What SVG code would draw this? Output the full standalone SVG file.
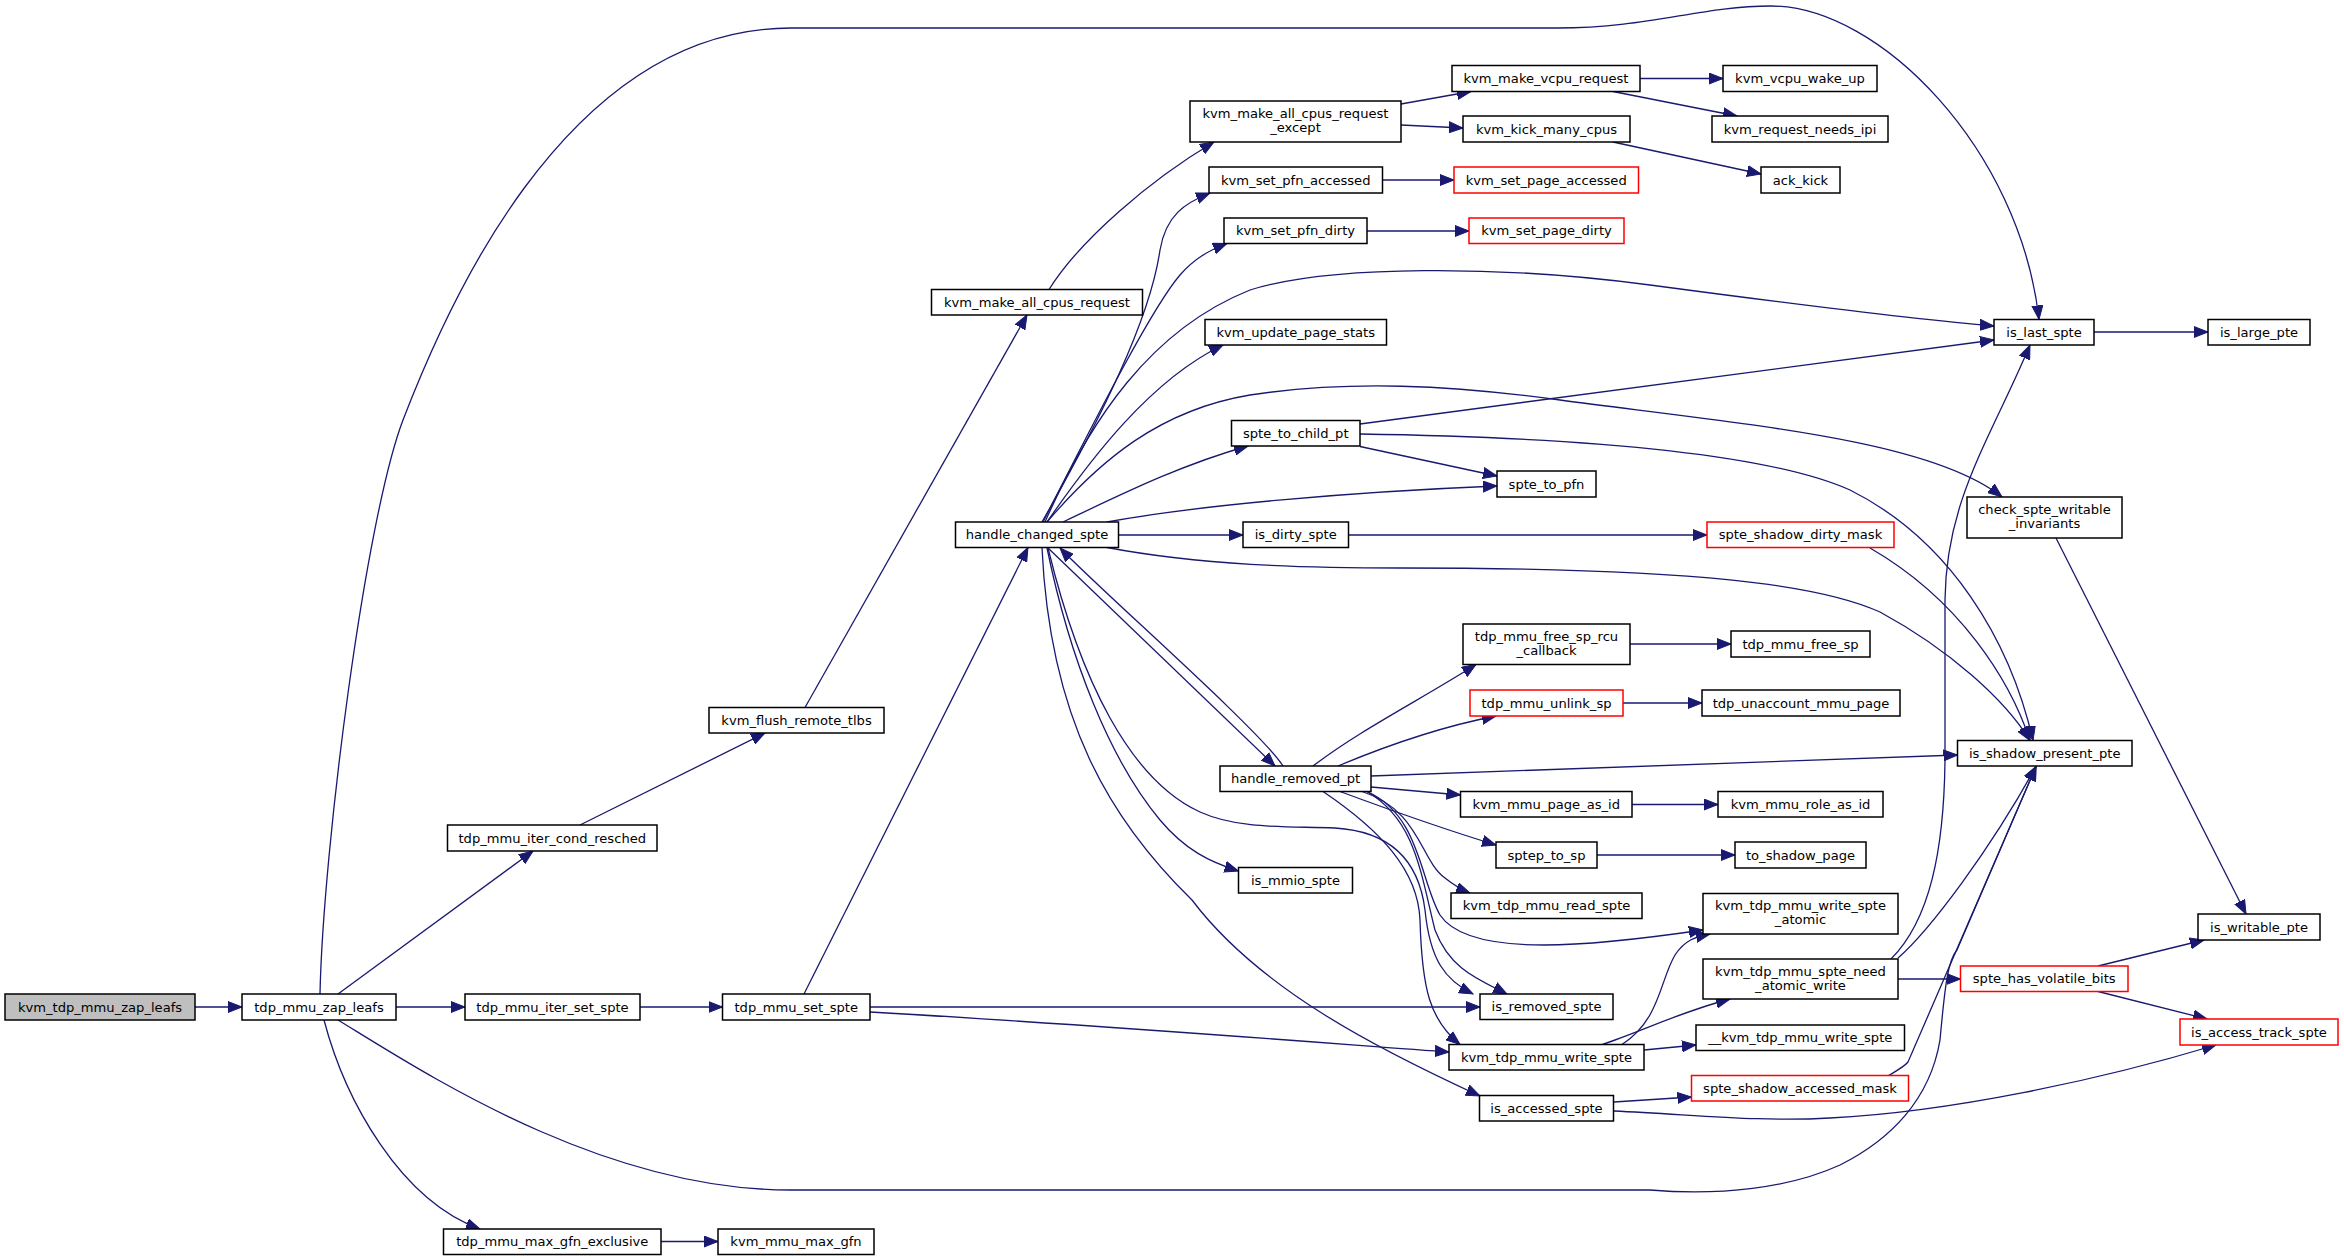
<svg xmlns="http://www.w3.org/2000/svg" width="2344" height="1259" viewBox="0 0 2344 1259">
<defs>
<style>
.n rect{fill:#ffffff;stroke:#000000;stroke-width:1.5}
.n.red rect{stroke:#ff0000}
.n.root rect{fill:#bfbfbf}
.n text{font-family:"DejaVu Sans","Liberation Sans",sans-serif;font-size:13.1px;text-anchor:middle;fill:#000000}
#edges path{fill:none;stroke:#191970;stroke-width:1.3;marker-end:url(#a)}
</style>
<marker id="a" markerUnits="userSpaceOnUse" markerWidth="15" markerHeight="12" viewBox="0 0 15 12" refX="14" refY="6" orient="auto">
<path d="M0,0.5 L14,6 L0,11.5 z" fill="#191970" stroke="#191970" stroke-width="1"/>
</marker>
</defs>
<rect x="0" y="0" width="2344" height="1259" fill="#ffffff"/>
<g id="edges">
<path d="M195,1007 L242,1007"/>
<path d="M320,994 C323,850 365,520 403,420 C440,324 560,28 791,28 L1557,28 C1650,28 1700,6 1771,6 C1880,6 2020,150 2039,319.5"/>
<path d="M338,994 L533,851"/>
<path d="M396,1007 L465,1007"/>
<path d="M324,1020 C345,1100 400,1200 480,1229"/>
<path d="M338,1020 C420,1070 600,1190 790,1190 L1650,1190 C1720,1196 1790,1188 1840,1165 C1890,1140 1930,1100 1940,1040 C1945,985 1948,960 1957,950 L2036,766.5"/>
<path d="M580,825 L765,733"/>
<path d="M805,707.5 L1027,315"/>
<path d="M1049,289.5 C1080,240 1150,180 1214,142"/>
<path d="M640,1007 L722.5,1007"/>
<path d="M661,1241.5 L718,1241.5"/>
<path d="M804,994 L1028,547.5"/>
<path d="M870,1007 L1480,1007"/>
<path d="M870,1012 C1100,1025 1350,1045 1449,1052"/>
<path d="M1042,522 C1100,420 1150,320 1160,250 C1166,215 1185,203 1210,193"/>
<path d="M1043,522 C1090,430 1150,310 1180,275 C1195,258 1210,250 1227,243.5"/>
<path d="M1045,522 C1090,420 1150,330 1250,290 C1330,265 1500,265 1650,285 C1800,305 1920,320 1994,326"/>
<path d="M1047,522 C1090,460 1150,380 1223,345"/>
<path d="M1047,522 C1100,460 1160,410 1250,395 C1350,380 1450,385 1560,400 C1750,425 1930,440 2002,497"/>
<path d="M1063,522 C1120,495 1180,465 1248,446"/>
<path d="M1107,522 C1200,505 1350,492 1497,486"/>
<path d="M1118.5,535 L1243,535"/>
<path d="M1107,547.5 C1200,565 1300,568 1400,568 C1700,568 1820,585 1880,612 C1950,650 2005,700 2030,740.5"/>
<path d="M1048,548 L1275,766"/>
<path d="M1047,548 C1070,660 1110,760 1160,820 C1185,850 1210,862 1238.5,871"/>
<path d="M1048,548 C1080,680 1130,780 1200,812 C1240,830 1290,826 1335,828 C1400,832 1420,870 1425,910 C1430,960 1445,980 1473,994"/>
<path d="M1042,548 C1050,720 1110,820 1192,900 C1260,990 1380,1050 1480,1096"/>
<path d="M1283,766 C1260,730 1100,590 1060,548"/>
<path d="M1313,766 C1360,730 1420,700 1476,664.5"/>
<path d="M1338,766 C1400,740 1450,725 1496,716"/>
<path d="M1371,776 C1600,768 1800,760 1957.5,755"/>
<path d="M1371,787 L1460.5,795"/>
<path d="M1340,791.5 C1390,810 1440,828 1496,845"/>
<path d="M1362,791.5 C1420,810 1420,860 1445,878 C1455,886 1462,890 1470,893"/>
<path d="M1367,791.5 C1420,815 1420,880 1440,915 C1470,960 1600,945 1703,930"/>
<path d="M1367,791.5 C1415,820 1420,870 1435,930 C1450,970 1480,980 1507,994"/>
<path d="M1323,791.5 C1380,830 1418,870 1420,920 C1422,990 1430,1020 1460,1044.5"/>
<path d="M1401,104 L1471,91.5"/>
<path d="M1401,125 L1463,128"/>
<path d="M1640,78.5 L1723,78.5"/>
<path d="M1613,91.5 L1737,116"/>
<path d="M1613,142 L1761,174"/>
<path d="M1382.5,180 L1454,180"/>
<path d="M1367,231 L1469,231"/>
<path d="M1360,424 L1994,340"/>
<path d="M1360,446.5 L1497,476"/>
<path d="M1360,434 C1550,437 1760,450 1850,490 C1950,540 2010,640 2033,740.5"/>
<path d="M1348.5,535 L1707,535"/>
<path d="M1630,644 L1731,644"/>
<path d="M1623,703 L1702,703"/>
<path d="M1632,804.5 L1718,804.5"/>
<path d="M1597,855 L1735,855"/>
<path d="M1622,1044.5 C1660,1020 1660,980 1675,955 C1685,940 1695,937 1710,934"/>
<path d="M1602,1044.5 C1640,1032 1680,1012 1730,999"/>
<path d="M1644,1050 L1696,1045"/>
<path d="M1614,1102 L1691.5,1097"/>
<path d="M1614,1111 C1700,1115 1760,1122 1830,1118 C1950,1112 2100,1080 2216,1045"/>
<path d="M1870,548 C1960,600 2010,680 2030,740.5"/>
<path d="M1898,979 L1960.5,979"/>
<path d="M1891,959 C1930,920 1944,850 1945,760 L1945,600 C1946,500 1990,440 2030,345"/>
<path d="M1898,958 C1930,930 1990,850 2036,766.5"/>
<path d="M1888,1076 C1898,1070 1905,1066 1908,1062 L2036,766.5"/>
<path d="M2094,332 L2208,332"/>
<path d="M2056,538 L2246,914"/>
<path d="M2098,966 L2204,940"/>
<path d="M2098,991.5 L2207,1019"/>
</g>
<g id="kvm_tdp_mmu_zap_leafs" class="n root"><rect x="5" y="994" width="190" height="26"/><text x="100" y="1011.5">kvm_tdp_mmu_zap_leafs</text></g>
<g id="tdp_mmu_zap_leafs" class="n"><rect x="242" y="994" width="154" height="26"/><text x="319" y="1011.5">tdp_mmu_zap_leafs</text></g>
<g id="tdp_mmu_iter_cond_resched" class="n"><rect x="447.5" y="825" width="209.5" height="26"/><text x="552.25" y="842.5">tdp_mmu_iter_cond_resched</text></g>
<g id="tdp_mmu_iter_set_spte" class="n"><rect x="465" y="994" width="175" height="26"/><text x="552.5" y="1011.5">tdp_mmu_iter_set_spte</text></g>
<g id="tdp_mmu_max_gfn_exclusive" class="n"><rect x="443.5" y="1229" width="217.5" height="25.5"/><text x="552.25" y="1246.2">tdp_mmu_max_gfn_exclusive</text></g>
<g id="kvm_flush_remote_tlbs" class="n"><rect x="709" y="707.5" width="175" height="25.5"/><text x="796.5" y="724.7">kvm_flush_remote_tlbs</text></g>
<g id="tdp_mmu_set_spte" class="n"><rect x="722.5" y="994" width="147.5" height="26"/><text x="796.25" y="1011.5">tdp_mmu_set_spte</text></g>
<g id="kvm_mmu_max_gfn" class="n"><rect x="718" y="1229" width="156" height="25.5"/><text x="796" y="1246.2">kvm_mmu_max_gfn</text></g>
<g id="kvm_make_all_cpus_request" class="n"><rect x="931.5" y="289.5" width="211" height="25.5"/><text x="1037" y="306.7">kvm_make_all_cpus_request</text></g>
<g id="handle_changed_spte" class="n"><rect x="955.5" y="522" width="163" height="25.5"/><text x="1037" y="539.2">handle_changed_spte</text></g>
<g id="kvm_make_all_cpus_request_except" class="n"><rect x="1190" y="101" width="211" height="41"/><text x="1295.5" y="118">kvm_make_all_cpus_request</text><text x="1295.5" y="132">_except</text></g>
<g id="kvm_set_pfn_accessed" class="n"><rect x="1209" y="167" width="173.5" height="26"/><text x="1295.75" y="184.5">kvm_set_pfn_accessed</text></g>
<g id="kvm_set_pfn_dirty" class="n"><rect x="1224" y="218" width="143" height="25.5"/><text x="1295.5" y="235.2">kvm_set_pfn_dirty</text></g>
<g id="kvm_update_page_stats" class="n"><rect x="1205" y="319.5" width="181.5" height="25.5"/><text x="1295.75" y="336.7">kvm_update_page_stats</text></g>
<g id="spte_to_child_pt" class="n"><rect x="1231.5" y="420.5" width="128.5" height="25.5"/><text x="1295.75" y="437.7">spte_to_child_pt</text></g>
<g id="is_dirty_spte" class="n"><rect x="1243" y="522" width="105.5" height="25.5"/><text x="1295.75" y="539.2">is_dirty_spte</text></g>
<g id="handle_removed_pt" class="n"><rect x="1220" y="766" width="151" height="25.5"/><text x="1295.5" y="783.2">handle_removed_pt</text></g>
<g id="is_mmio_spte" class="n"><rect x="1238.5" y="867.5" width="114" height="25.5"/><text x="1295.5" y="884.7">is_mmio_spte</text></g>
<g id="kvm_make_vcpu_request" class="n"><rect x="1452" y="65.5" width="188" height="26"/><text x="1546" y="83">kvm_make_vcpu_request</text></g>
<g id="kvm_kick_many_cpus" class="n"><rect x="1463" y="116" width="167" height="26"/><text x="1546.5" y="133.5">kvm_kick_many_cpus</text></g>
<g id="kvm_set_page_accessed" class="n red"><rect x="1454" y="167" width="184.5" height="26"/><text x="1546.25" y="184.5">kvm_set_page_accessed</text></g>
<g id="kvm_set_page_dirty" class="n red"><rect x="1469" y="218" width="155" height="25.5"/><text x="1546.5" y="235.2">kvm_set_page_dirty</text></g>
<g id="spte_to_pfn" class="n"><rect x="1497" y="471" width="99" height="26"/><text x="1546.5" y="488.5">spte_to_pfn</text></g>
<g id="tdp_mmu_free_sp_rcu_callback" class="n"><rect x="1463" y="624" width="167" height="40.5"/><text x="1546.5" y="640.7">tdp_mmu_free_sp_rcu</text><text x="1546.5" y="654.7">_callback</text></g>
<g id="tdp_mmu_unlink_sp" class="n red"><rect x="1470" y="690" width="153" height="26"/><text x="1546.5" y="707.5">tdp_mmu_unlink_sp</text></g>
<g id="kvm_mmu_page_as_id" class="n"><rect x="1460.5" y="791.5" width="171.5" height="25.5"/><text x="1546.25" y="808.7">kvm_mmu_page_as_id</text></g>
<g id="sptep_to_sp" class="n"><rect x="1496" y="842" width="101" height="26"/><text x="1546.5" y="859.5">sptep_to_sp</text></g>
<g id="kvm_tdp_mmu_read_spte" class="n"><rect x="1451" y="893" width="191" height="25.5"/><text x="1546.5" y="910.2">kvm_tdp_mmu_read_spte</text></g>
<g id="is_removed_spte" class="n"><rect x="1480" y="994" width="133" height="25.5"/><text x="1546.5" y="1011.2">is_removed_spte</text></g>
<g id="kvm_tdp_mmu_write_spte" class="n"><rect x="1449" y="1044.5" width="195" height="25.5"/><text x="1546.5" y="1061.7">kvm_tdp_mmu_write_spte</text></g>
<g id="is_accessed_spte" class="n"><rect x="1479.5" y="1095.5" width="134" height="25.5"/><text x="1546.5" y="1112.7">is_accessed_spte</text></g>
<g id="kvm_vcpu_wake_up" class="n"><rect x="1723" y="65.5" width="154" height="26"/><text x="1800" y="83">kvm_vcpu_wake_up</text></g>
<g id="kvm_request_needs_ipi" class="n"><rect x="1712" y="116" width="176" height="26"/><text x="1800" y="133.5">kvm_request_needs_ipi</text></g>
<g id="ack_kick" class="n"><rect x="1761" y="167" width="79" height="26"/><text x="1800.5" y="184.5">ack_kick</text></g>
<g id="spte_shadow_dirty_mask" class="n red"><rect x="1707" y="522" width="187" height="25.5"/><text x="1800.5" y="539.2">spte_shadow_dirty_mask</text></g>
<g id="tdp_mmu_free_sp" class="n"><rect x="1731" y="631" width="139" height="26"/><text x="1800.5" y="648.5">tdp_mmu_free_sp</text></g>
<g id="tdp_unaccount_mmu_page" class="n"><rect x="1702" y="690" width="198" height="26"/><text x="1801" y="707.5">tdp_unaccount_mmu_page</text></g>
<g id="kvm_mmu_role_as_id" class="n"><rect x="1718" y="791.5" width="165" height="25.5"/><text x="1800.5" y="808.7">kvm_mmu_role_as_id</text></g>
<g id="to_shadow_page" class="n"><rect x="1735" y="842" width="131" height="26"/><text x="1800.5" y="859.5">to_shadow_page</text></g>
<g id="kvm_tdp_mmu_write_spte_atomic" class="n"><rect x="1703" y="893.5" width="195" height="40.5"/><text x="1800.5" y="910.2">kvm_tdp_mmu_write_spte</text><text x="1800.5" y="924.2">_atomic</text></g>
<g id="kvm_tdp_mmu_spte_need_atomic_write" class="n"><rect x="1703" y="959" width="195" height="40"/><text x="1800.5" y="975.5">kvm_tdp_mmu_spte_need</text><text x="1800.5" y="989.5">_atomic_write</text></g>
<g id="__kvm_tdp_mmu_write_spte" class="n"><rect x="1696" y="1025" width="208.5" height="25.5"/><text x="1800.25" y="1042.2">__kvm_tdp_mmu_write_spte</text></g>
<g id="spte_shadow_accessed_mask" class="n red"><rect x="1691.5" y="1075.5" width="217" height="25.5"/><text x="1800" y="1092.7">spte_shadow_accessed_mask</text></g>
<g id="is_last_spte" class="n"><rect x="1994" y="319.5" width="100" height="25.5"/><text x="2044" y="336.7">is_last_spte</text></g>
<g id="check_spte_writable_invariants" class="n"><rect x="1967" y="497" width="155" height="41"/><text x="2044.5" y="514">check_spte_writable</text><text x="2044.5" y="528">_invariants</text></g>
<g id="is_shadow_present_pte" class="n"><rect x="1957.5" y="740.5" width="174.5" height="25.5"/><text x="2044.75" y="757.7">is_shadow_present_pte</text></g>
<g id="spte_has_volatile_bits" class="n red"><rect x="1960.5" y="966" width="167.5" height="25.5"/><text x="2044.25" y="983.2">spte_has_volatile_bits</text></g>
<g id="is_large_pte" class="n"><rect x="2208" y="319.5" width="102" height="25.5"/><text x="2259" y="336.7">is_large_pte</text></g>
<g id="is_writable_pte" class="n"><rect x="2198" y="914" width="122" height="26"/><text x="2259" y="931.5">is_writable_pte</text></g>
<g id="is_access_track_spte" class="n red"><rect x="2180" y="1019" width="158" height="26"/><text x="2259" y="1036.5">is_access_track_spte</text></g>
</svg>
